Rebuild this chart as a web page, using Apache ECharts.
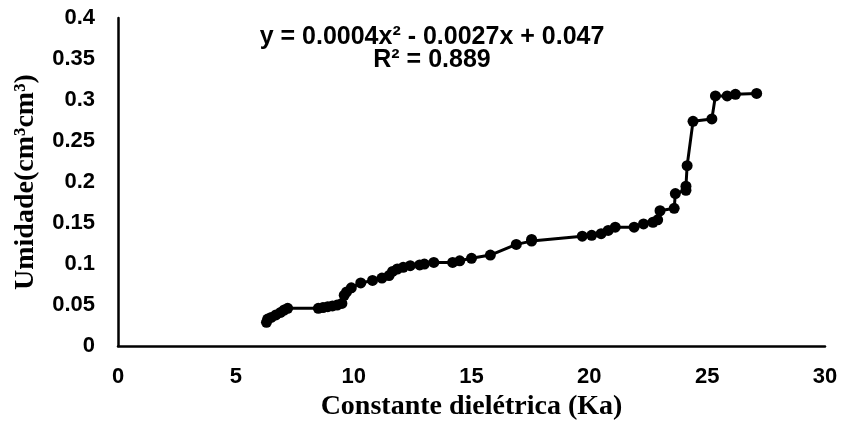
<!DOCTYPE html>
<html>
<head>
<meta charset="utf-8">
<script src="https://cdn.jsdelivr.net/npm/echarts@6/dist/echarts.min.js"></script>
<style>
  html, body { margin: 0; padding: 0; background: #fff; }
  #chart { width: 843px; height: 426px; }
</style>
</head>
<body>
<div id="chart"></div>
<script>
// Ka vs umidade
var ka = [6.3, 6.35, 6.5, 6.7, 6.9, 7.05, 7.2, 8.5, 8.7, 8.9, 9.1, 9.3, 9.5, 9.6, 9.7, 9.9,
    10.3, 10.8, 11.2, 11.5, 11.65, 11.85, 12.1, 12.4, 12.8, 13.0, 13.4, 14.2, 14.5, 15.0, 15.8,
    16.9, 17.55, 17.55, 19.7, 20.1, 20.5, 20.8, 21.1, 21.9, 22.3, 22.7, 22.9, 23.0, 23.6, 23.65,
    24.1, 24.1, 24.15, 24.4, 25.2, 25.35, 25.85, 26.2, 27.1];
var umidade = [0.029, 0.033, 0.035, 0.038, 0.041, 0.044, 0.046, 0.046, 0.047, 0.048, 0.049, 0.050, 0.052, 0.062, 0.066, 0.071,
    0.077, 0.080, 0.083, 0.086, 0.091, 0.094, 0.096, 0.098, 0.099, 0.100, 0.102, 0.102, 0.104, 0.107, 0.111,
    0.124, 0.128, 0.130, 0.134, 0.135, 0.137, 0.141, 0.145, 0.145, 0.149, 0.151, 0.154, 0.165, 0.168, 0.186,
    0.190, 0.195, 0.220, 0.274, 0.277, 0.305, 0.305, 0.307, 0.308];
var equacao = 'y = 0.0004x² - 0.0027x + 0.047';
var r2 = 'R² = 0.889';

var myChart = echarts.init(document.getElementById('chart'));
var pts = [];
for (var i = 0; i < ka.length; i++) {
    pts.push([ka[i], umidade[i]]);
}
var lblFont = { color: '#000', fontFamily: 'Liberation Sans, Arial', fontWeight: 'bold', fontSize: 22 };
var nomeFont = { color: '#000', fontFamily: 'Liberation Serif, Times New Roman', fontWeight: 'bold', fontSize: 28 };

myChart.setOption({
    animation: false,
    grid: { left: 118, right: 18, top: 18, bottom: 75 },
    xAxis: {
        type: 'value',
        min: 0, max: 30, interval: 5,
        name: 'Constante dielétrica (Ka)',
        nameLocation: 'middle',
        nameGap: 45,
        nameTextStyle: nomeFont,
        axisLine: { lineStyle: { color: '#000', width: 2.5 } },
        axisTick: { show: false },
        splitLine: { show: false },
        axisLabel: Object.assign({ margin: 20 }, lblFont)
    },
    yAxis: {
        type: 'value',
        min: 0, max: 0.4, interval: 0.05,
        name: 'Umidade(cm³cm³)',
        nameLocation: 'middle',
        nameGap: 78,
        nameTextStyle: nomeFont,
        axisLine: { show: true, lineStyle: { color: '#000', width: 2.5 } },
        axisTick: { show: false },
        splitLine: { show: false },
        axisLabel: Object.assign({ margin: 23 }, lblFont)
    },
    graphic: [
        {
            type: 'text', x: 432, y: 37,
            style: { text: equacao, align: 'center', verticalAlign: 'middle', fill: '#000',
                font: 'bold 25px "Liberation Sans", Arial' }
        },
        {
            type: 'text', x: 432, y: 60,
            style: { text: r2, align: 'center', verticalAlign: 'middle', fill: '#000',
                font: 'bold 25px "Liberation Sans", Arial' }
        }
    ],
    series: [{
        type: 'line',
        data: pts,
        symbol: 'circle',
        symbolSize: 11,
        showAllSymbol: true,
        lineStyle: { color: '#000', width: 3 },
        itemStyle: { color: '#000' }
    }]
});
</script>
</body>
</html>
